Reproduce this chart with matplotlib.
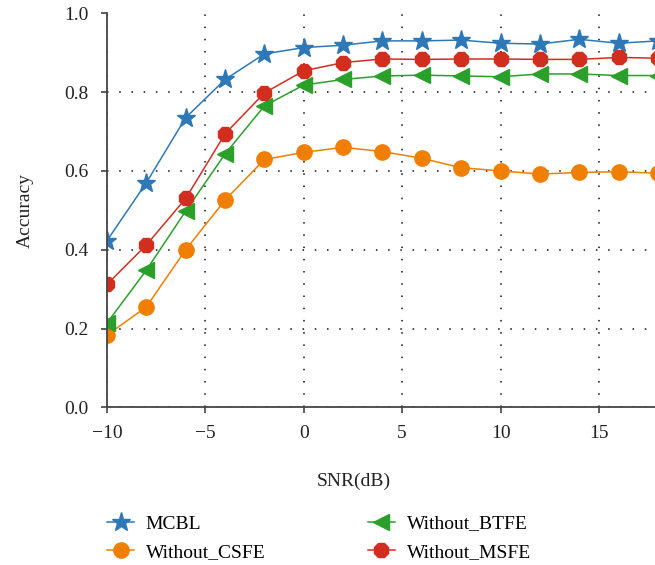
import numpy as np
import matplotlib.pyplot as plt

plt.rcParams['font.family'] = ['Liberation Serif', 'DejaVu Serif']

snr = [-10, -8, -6, -4, -2, 0, 2, 4, 6, 8, 10, 12, 14, 16, 18]
mcbl = [0.423, 0.570, 0.735, 0.832, 0.897, 0.913, 0.919, 0.930, 0.930, 0.932, 0.924, 0.922, 0.934, 0.924, 0.930]
without_csfe = [0.183, 0.255, 0.400, 0.526, 0.629, 0.647, 0.660, 0.649, 0.632, 0.608, 0.600, 0.592, 0.596, 0.598, 0.594]
without_btfe = [0.214, 0.348, 0.498, 0.643, 0.765, 0.818, 0.832, 0.841, 0.843, 0.841, 0.839, 0.846, 0.846, 0.842, 0.842]
without_msfe = [0.312, 0.412, 0.530, 0.694, 0.798, 0.854, 0.875, 0.884, 0.883, 0.884, 0.884, 0.883, 0.883, 0.888, 0.886]

blue = '#2e78b7'
orange = '#f07f00'
green = '#2aa02a'
red = '#d22e20'

fig = plt.figure(figsize=(6.55, 5.65), dpi=100)
ax = fig.add_axes([107 / 655, 1 - 407.3 / 565, 548 / 655, (407.3 - 13.3) / 565])

l1, = ax.plot(snr, mcbl, color=blue, marker='*', markersize=14, lw=1.1, label='MCBL')
l2, = ax.plot(snr, without_csfe, color=orange, marker='o', markersize=11, lw=1.1, label='Without_CSFE')
l3, = ax.plot(snr, without_btfe, color=green, marker='<', markersize=11, lw=1.1, label='Without_BTFE')
l4, = ax.plot(snr, without_msfe, color=red, marker='8', markersize=11, lw=1.1, label='Without_MSFE')

ax.set_xlim(-10, 17.85)
ax.set_ylim(0, 1.0)
ax.set_xticks([-10, -5, 0, 5, 10, 15])
ax.set_xticklabels(['\u221210', '\u22125', '0', '5', '10', '15'])
ax.set_yticks([0.0, 0.2, 0.4, 0.6, 0.8, 1.0])
ax.set_yticklabels(['0.0', '0.2', '0.4', '0.6', '0.8', '1.0'])

ax.grid(True, color='#111111', linestyle=(0, (1, 7)), linewidth=1.1)
ax.yaxis.get_gridlines()[-1].set_visible(False)
ax.set_axisbelow(True)

for s in ['top', 'right']:
    ax.spines[s].set_visible(False)
for s in ['left', 'bottom']:
    ax.spines[s].set_color('#444444')
    ax.spines[s].set_linewidth(1.3)

ax.tick_params(colors='#444444', labelcolor='#222222', labelsize=14, length=4, width=1.2, pad=9)

ax.set_xlabel('SNR(dB)', fontsize=14, color='#222222')
ax.xaxis.set_label_coords((354 - 107) / 548, -(473 - 407.3) / 394)
ax.set_ylabel('Accuracy', fontsize=14, color='#222222')
ax.yaxis.set_label_coords(-(107 - 34) / 548, 0.5)

fig.legend([l1, l2, l3, l4], ['MCBL', 'Without_CSFE', 'Without_BTFE', 'Without_MSFE'],
           ncol=2, frameon=False, fontsize=14, loc='upper left',
           bbox_to_anchor=(107 / 655, 1 - 515 / 565),
           handlelength=1.4, handletextpad=0.6, columnspacing=5.25, labelspacing=0.55,
           borderaxespad=0, borderpad=0)

fig.savefig('out.png', dpi=100)
